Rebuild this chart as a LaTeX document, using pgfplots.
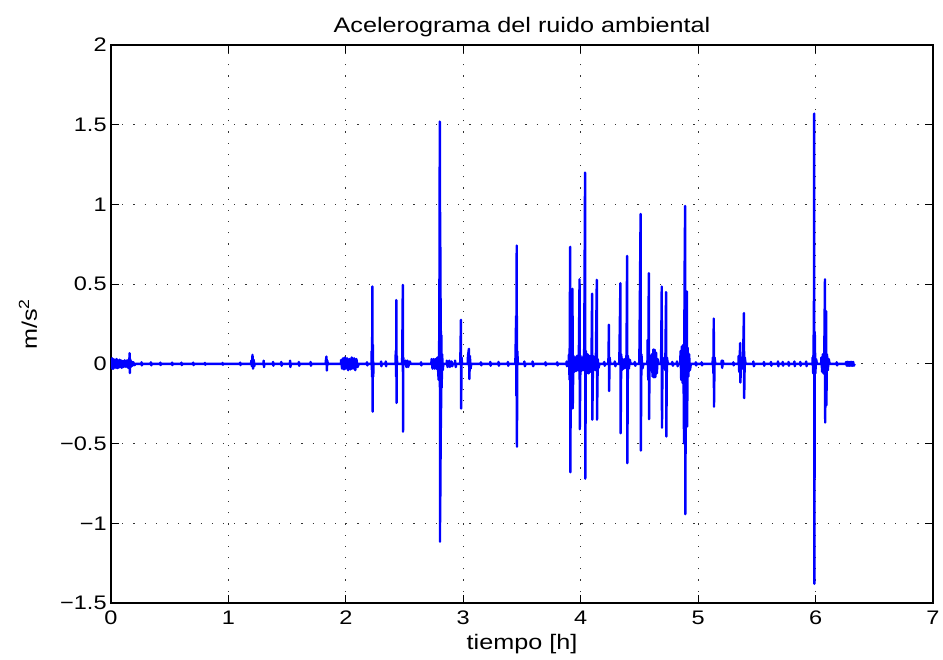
\documentclass[border=0pt]{standalone}
\usepackage{pgfplots}
\pgfplotsset{compat=1.18}
\usepackage{pgfplotstable}
\usepackage{fontspec}
\setmainfont{Liberation Sans}[FakeStretch=1.2]

\pgfplotstableread{
x y
0.000 0
0.003 0.030
0.006 -0.028
0.010 0.035
0.013 -0.030
0.017 0.025
0.021 -0.030
0.025 0.028
0.030 -0.022
0.036 0.025
0.042 -0.025
0.048 0.030
0.054 -0.027
0.060 0.020
0.066 -0.024
0.072 0.026
0.078 -0.020
0.085 0.022
0.092 -0.025
0.100 0.018
0.108 -0.020
0.116 0.022
0.124 -0.018
0.132 0.020
0.140 -0.022
0.148 0.025
0.155 -0.030
0.158 0.067
0.161 -0.058
0.164 0.030
0.168 -0.020
0.175 0.015
0.182 -0.012
0.190 0.010
0.200 -0.008
0.210 0
0.258 0
0.260 0.010
0.263 -0.010
0.266 0
0.338 0
0.340 0.010
0.343 -0.010
0.346 0
0.418 0
0.420 0.008
0.423 -0.008
0.426 0
0.518 0
0.520 0.008
0.523 -0.008
0.526 0
0.598 0
0.600 0.008
0.603 -0.008
0.606 0
0.698 0
0.700 0.008
0.703 -0.008
0.706 0
0.798 0
0.800 0.006
0.803 -0.006
0.806 0
0.948 0
0.950 0.006
0.953 -0.006
0.956 0
1.098 0
1.100 0.008
1.103 -0.008
1.106 0
1.193 0
1.195 0.020
1.200 -0.015
1.205 0.056
1.210 -0.030
1.215 0.025
1.220 -0.015
1.225 0
1.298 0
1.300 0.020
1.303 -0.020
1.306 0
1.378 0
1.380 0.012
1.383 -0.012
1.386 0
1.448 0
1.450 0.012
1.453 -0.012
1.456 0
1.523 0
1.525 0.020
1.528 -0.020
1.531 0
1.598 0
1.600 0.012
1.603 -0.012
1.606 0
1.698 0
1.700 0.012
1.703 -0.012
1.706 0
1.828 0
1.830 0.020
1.835 0.046
1.838 -0.042
1.842 0.020
1.846 0
1.958 0
1.960 0.025
1.968 -0.030
1.976 0.035
1.984 -0.035
1.992 0.040
2.000 -0.030
2.010 0.035
2.020 -0.040
2.030 0.030
2.040 -0.035
2.050 0.040
2.060 -0.030
2.070 0.035
2.080 -0.040
2.090 0.030
2.100 -0.020
2.110 0
2.178 0
2.180 0.010
2.183 -0.010
2.186 0
2.218 0
2.220 0.080
2.223 -0.080
2.226 0.485
2.228 -0.300
2.230 0.120
2.233 -0.080
2.236 0
2.298 0
2.300 0.015
2.303 -0.015
2.306 0
2.338 0
2.340 0.015
2.343 -0.015
2.346 0
2.423 0
2.425 0.080
2.428 -0.080
2.430 0.400
2.432 -0.245
2.434 0.050
2.437 0
2.478 0
2.480 0.040
2.485 0.495
2.487 -0.425
2.489 0.040
2.492 0
2.508 0
2.510 0.020
2.515 -0.020
2.525 0.020
2.530 -0.020
2.545 0.015
2.550 0
2.638 0
2.640 0.010
2.643 -0.010
2.646 0
2.728 0
2.730 0.030
2.738 -0.030
2.746 0.030
2.754 -0.030
2.762 0.030
2.770 -0.030
2.780 0.040
2.790 -0.100
2.796 0.200
2.800 1.520
2.802 -1.115
2.804 0.950
2.806 -0.830
2.808 0.410
2.810 -0.400
2.813 0.180
2.816 -0.150
2.820 0.060
2.825 -0.040
2.830 0
2.858 0
2.860 0.020
2.866 -0.020
2.870 0
2.878 0
2.880 0.020
2.886 -0.020
2.890 0
2.898 0
2.900 0.015
2.906 -0.015
2.910 0
2.928 0
2.930 0.020
2.936 -0.020
2.940 0
2.973 0
2.975 0.030
2.980 0.276
2.982 -0.280
2.985 0.040
2.990 0
3.038 0
3.040 0.050
3.048 0.094
3.052 -0.095
3.056 0.050
3.062 -0.030
3.068 0
3.148 0
3.150 0.010
3.153 -0.010
3.156 0
3.228 0
3.230 0.012
3.233 -0.012
3.236 0
3.298 0
3.300 0.012
3.303 -0.012
3.306 0
3.378 0
3.380 0.012
3.383 -0.012
3.386 0
3.443 0
3.445 0.060
3.450 0.300
3.452 -0.200
3.455 0.742
3.457 -0.520
3.460 0.080
3.465 0
3.518 0
3.520 0.015
3.525 -0.015
3.530 0
3.588 0
3.590 0.015
3.595 -0.015
3.600 0
3.698 0
3.700 0.010
3.703 -0.010
3.706 0
3.798 0
3.800 0.010
3.803 -0.010
3.806 0
3.878 0
3.880 0.015
3.883 -0.015
3.890 0
3.898 0
3.900 0.060
3.905 -0.100
3.910 0.734
3.912 -0.680
3.916 0.100
3.922 -0.080
3.930 0.470
3.932 -0.280
3.938 0.050
3.945 -0.050
3.952 0.040
3.960 -0.045
3.968 0.050
3.976 -0.040
3.984 0.040
3.990 0.530
3.992 -0.410
3.998 0.050
4.006 -0.045
4.014 0.040
4.022 -0.040
4.030 0.100
4.037 1.200
4.039 -0.720
4.044 0.080
4.052 -0.060
4.060 0.060
4.068 -0.060
4.076 0.050
4.084 -0.050
4.092 0.040
4.097 0.440
4.099 -0.350
4.105 0.050
4.112 -0.040
4.120 0.040
4.128 -0.040
4.137 0.527
4.139 -0.350
4.145 0.030
4.152 -0.025
4.160 0
4.198 0
4.200 0.012
4.205 -0.012
4.210 0
4.235 0
4.237 0.060
4.240 0.245
4.242 -0.170
4.246 0.040
4.252 0
4.288 0
4.290 0.015
4.295 -0.015
4.300 0
4.328 0
4.330 0.080
4.338 0.506
4.340 -0.435
4.345 0.060
4.350 -0.040
4.358 0.030
4.366 -0.030
4.375 0.030
4.383 -0.025
4.390 0.060
4.395 0.677
4.397 -0.623
4.402 0.050
4.410 -0.030
4.418 0.025
4.425 0
4.458 0
4.460 0.012
4.465 -0.012
4.470 0
4.498 0
4.500 0.080
4.510 0.940
4.512 -0.544
4.517 0.060
4.525 -0.030
4.535 0
4.568 0
4.570 0.150
4.575 -0.100
4.580 0.569
4.582 -0.347
4.587 0.050
4.595 -0.040
4.605 0.060
4.612 -0.080
4.618 0.090
4.624 -0.085
4.630 0.088
4.636 -0.083
4.642 0.070
4.648 -0.060
4.655 0.030
4.662 0
4.683 0
4.685 0.060
4.690 0.485
4.692 -0.400
4.697 0.040
4.704 -0.030
4.712 0.030
4.720 -0.040
4.727 0.450
4.729 -0.456
4.734 0.040
4.742 0
4.778 0
4.780 0.012
4.785 -0.012
4.790 0
4.818 0
4.820 0.015
4.825 -0.015
4.830 0
4.848 0
4.850 0.080
4.856 -0.100
4.862 0.110
4.868 -0.120
4.874 0.120
4.880 -0.500
4.884 0.500
4.889 0.990
4.891 -0.943
4.896 0.150
4.900 -0.120
4.904 0.454
4.906 -0.393
4.911 0.100
4.917 -0.080
4.923 0.060
4.930 -0.040
4.938 0
4.978 0
4.980 0.010
4.983 -0.010
4.986 0
5.028 0
5.030 0.010
5.033 -0.010
5.036 0
5.123 0
5.125 0.040
5.130 -0.060
5.133 0.284
5.135 -0.268
5.140 0.040
5.146 0
5.198 0
5.200 0.020
5.205 -0.025
5.210 0.020
5.216 0
5.298 0
5.300 0.010
5.303 -0.010
5.306 0
5.343 0
5.345 0.050
5.350 -0.050
5.358 0.130
5.360 -0.117
5.366 0.040
5.374 -0.030
5.383 0.050
5.390 0.318
5.392 -0.215
5.397 0.040
5.404 0
5.468 0
5.470 0.015
5.475 -0.015
5.480 0
5.558 0
5.560 0.012
5.563 -0.012
5.566 0
5.618 0
5.620 0.012
5.623 -0.012
5.626 0
5.678 0
5.680 0.015
5.683 -0.015
5.686 0
5.718 0
5.720 0.012
5.723 -0.012
5.726 0
5.768 0
5.770 0.012
5.773 -0.012
5.776 0
5.818 0
5.820 0.015
5.823 -0.015
5.826 0
5.868 0
5.870 0.012
5.873 -0.012
5.876 0
5.918 0
5.920 0.015
5.923 -0.015
5.926 0
5.973 0
5.975 0.040
5.980 -0.060
5.986 0.300
5.988 1.570
5.990 -1.380
5.993 0.200
5.998 -0.060
6.004 0.030
6.012 0
6.048 0
6.050 0.040
6.056 -0.050
6.062 0.060
6.068 -0.060
6.074 0.050
6.080 0.530
6.082 -0.368
6.086 0.100
6.090 0.330
6.092 -0.260
6.097 0.060
6.104 -0.040
6.112 0.030
6.120 0
6.178 0
6.180 0.010
6.183 -0.010
6.186 0
6.258 0
6.260 0.012
6.266 -0.012
6.272 0.012
6.278 -0.012
6.284 0.012
6.290 -0.012
6.296 0.012
6.302 -0.012
6.308 0.012
6.314 -0.012
6.320 0.012
6.326 -0.012
6.332 0
}\datatable

\begin{document}
\begin{tikzpicture}
\begin{axis}[
  scale only axis,
  width=411pt, height=279pt,
  xmin=0, xmax=7, ymin=-1.5, ymax=2,
  xtick={0,1,2,3,4,5,6,7},
  ytick={-1.5,-1,-0.5,0,0.5,1,1.5,2},
  yticklabels={−1.5,−1,−0.5,0,0.5,1,1.5,2},
  xticklabels={0,1,2,3,4,5,6,7},
  tick align=inside,
  major tick length=4pt,
  tick style={black, line width=0.6pt},
  axis line style={black, line width=0.8pt},
  grid=major,
  grid style={black!80, line width=0.6pt, dash pattern=on 0.6pt off 5pt},
  every tick label/.append style={font=\fontsize{9.8}{12}\selectfont},
  xticklabel style={anchor=base, yshift=-11pt},
  yticklabel style={inner sep=2pt},
  title={Acelerograma del ruido ambiental},
  every axis title/.style={at={(axis description cs:0.5,1)}, anchor=base, yshift=6pt, font=\fontsize{10.5}{12}\selectfont},
  xlabel={tiempo [h]},
  ylabel={m/s\textsuperscript{2}},
  every axis x label/.style={at={(axis description cs:0.5,0)}, anchor=base, yshift=-23.5pt, font=\fontsize{10.5}{12}\selectfont},
  every axis y label/.style={at={(axis description cs:-0.101,0.5)}, anchor=center, rotate=90, font=\fontsize{10.5}{12}\selectfont},
]
\addplot[blue, line width=1.2pt, line join=round] table[x=x, y=y] {\datatable};
\coordinate (bl) at (rel axis cs:0,0);
\coordinate (tr) at (rel axis cs:1,1);
\end{axis}
\pgfresetboundingbox
\path ([shift={(-55.5pt,-28.5pt)}]bl) rectangle ([shift={(5pt,22.5pt)}]tr);
\end{tikzpicture}
\end{document}
